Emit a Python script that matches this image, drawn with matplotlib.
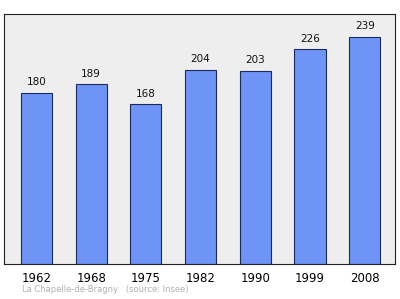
import matplotlib
matplotlib.use("Agg")
import matplotlib.pyplot as plt

years = ["1962", "1968", "1975", "1982", "1990", "1999", "2008"]
population = [180, 189, 168, 204, 203, 226, 239]

fig = plt.figure(figsize=(4, 2.99), dpi=100)
ax = fig.add_axes([0.01, 0.117, 0.9775, 0.836])
ax.set_facecolor("#eeeeee")

x = range(len(years))
ax.bar(x, population, width=0.57, color="#6f94f7", edgecolor="#1a2a5a", linewidth=0.8)
for i, v in zip(x, population):
    ax.text(i, v + 6, str(v), ha="center", va="bottom", fontsize=7.5, color="#111111")

ax.set_xlim(-0.594, 6.554)
ax.set_ylim(0, 263)
ax.set_xticks(list(x))
ax.set_xticklabels(years, fontsize=8.5)
ax.tick_params(axis="x", length=0, pad=6)
ax.set_yticks([])
for s in ax.spines.values():
    s.set_color("#222222")
    s.set_linewidth(0.8)

fig.text(0.055, 0.022, "La Chapelle-de-Bragny   (source: Insee)", fontsize=6, color="#b0b0b0")

fig.savefig("out.png", dpi=100, facecolor="white")
